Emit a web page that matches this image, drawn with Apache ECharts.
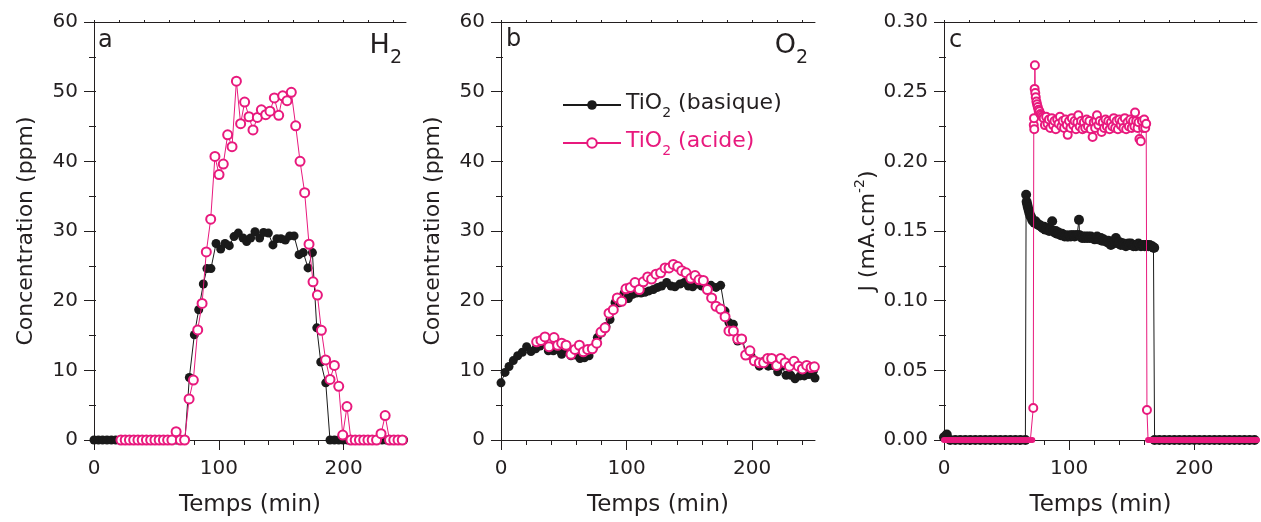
<!DOCTYPE html>
<html>
<head>
<meta charset="utf-8">
<script src="https://cdn.jsdelivr.net/npm/echarts@6/dist/echarts.min.js"></script>
<style>
html,body{margin:0;padding:0;background:#fff;}
#chart{width:1261px;height:522px;}
</style>
</head>
<body>
<div id="chart"></div>
<script>
// ---------- DATA ----------
// Panel a : H2 concentration (ppm) vs time (min)
const aBasique = [[0,0],[3.5,0],[6.9,0],[10.4,0],[13.9,0],[17.4,0],[20.8,0],[24.3,0],[27.8,0],[31.2,0],[34.7,0],[38.2,0],[41.7,0],[45.1,0],[48.6,0],[52.1,0],[55.6,0],[59.0,0],[62.5,0],[66.0,0],[69.4,0],[72.9,0],
[76.4,8.97],[80.4,15.1],[83.9,18.7],[87.6,22.4],[90.5,24.6],[93.7,24.6],[97.8,28.2],[101.5,27.4],[105.0,28.2],[108.4,27.9],
[112.2,29.2],[115.6,29.7],[119.4,29.0],[122.3,28.5],[125.5,29.0],[129.0,29.9],[132.7,29.0],[135.9,29.8],[139.7,29.7],[143.4,28.0],
[146.6,28.9],[149.8,28.9],[153.3,28.7],[156.8,29.3],[160.3,29.3],[164.3,26.6],[167.7,26.9],[171.5,24.7],[175.0,26.9],[178.5,16.1],
[181.7,11.2],[185.7,8.2],[189.1,0],[192.6,0],[196.1,0],[199.5,0],[203.0,0],[206.5,0],[210.0,0],[213.4,0],[216.9,0],[220.4,0],
[223.8,0],[227.3,0],[230.8,0],[234.2,0],[237.7,0],[241.2,0],[244.7,0],[248.1,0]];
const aAcide = [[21.6,0],[25.0,0],[28.4,0],[31.8,0],[35.2,0],[38.6,0],[42.0,0],[45.4,0],[48.8,0],[52.2,0],[55.6,0],[59.0,0],[62.4,0],
[65.8,1.2],[69.2,0],[72.6,0],[76.2,5.9],[79.6,8.6],[83.1,15.8],[86.6,19.6],[90.0,27.0],[93.5,31.7],[96.9,40.7],[100.2,38.1],
[103.6,39.6],[107.1,43.8],[110.6,42.1],[114.1,51.5],[117.5,45.4],[120.7,48.5],[124.2,46.4],[127.4,44.5],[130.9,46.3],[134.1,47.4],
[137.6,46.7],[141.0,47.2],[144.5,49.1],[148.0,46.6],[151.2,49.4],[154.7,48.7],[158.1,49.9],[161.6,45.1],[165.1,40.0],[168.8,35.5],
[172.3,28.1],[175.5,22.7],[179.0,20.8],[182.2,15.75],[185.6,11.5],[189.1,8.7],[192.6,10.7],[196.1,7.7],[199.3,0.7],[202.7,4.8],
[205.9,0],[209.3,0],[212.7,0],[216.1,0],[219.5,0],[222.9,0],[226.4,0],[230.0,0.9],[233.3,3.5],[236.8,0],[240.2,0],[243.6,0],[247.0,0]];

// Panel b : O2 concentration (ppm) vs time (min)
const bBasique = [[0,8.2],[3.2,9.7],[6.4,10.55],[9.8,11.4],[13.3,12.1],[17.0,12.6],[20.4,13.4],[23.9,12.7],[27.6,13.1],[31.1,13.5],
[34.5,13.8],[37.7,12.8],[41.7,12.8],[45.1,13.0],[48.3,12.3],[52.3,13.0],[55.7,12.1],[59.3,12.2],[62.9,11.7],[66.4,11.8],[70.1,12.1],
[73.5,13.2],[76.7,14.7],[80.2,15.4],[83.6,16.3],[86.8,17.3],[90.8,19.7],[94.2,19.7],[97.9,21.05],[101.4,20.3],[104.8,20.9],[108.0,21.1],
[111.5,21.1],[114.6,21.2],[117.8,21.4],[121.3,21.6],[124.7,21.9],[127.9,22.1],[131.9,22.6],[135.4,22.1],[138.5,22.0],[142.5,22.4],
[146.0,22.6],[149.2,22.1],[152.6,22.0],[156.3,22.4],[159.8,22.1],[163.2,22.1],[167.2,22.2],[171.2,21.9],[174.9,22.2],[178.4,18.5],
[181.5,16.85],[185.0,16.6],[188.4,14.2],[192.1,14.4],[195.6,12.3],[199.0,12.1],[202.2,11.3],[205.7,10.6],[209.4,11.3],[212.8,10.6],
[216.3,10.7],[220.3,9.8],[223.5,10.6],[227.0,9.3],[230.7,9.3],[234.1,8.8],[238.1,9.2],[241.5,9.2],[245.2,9.4],[248.7,9.9],[250,8.9]];
const bAcide = [[28.4,14.1],[31.8,14.3],[35.0,14.8],[38.2,13.4],[42.2,14.7],[45.1,13.6],[48.3,13.9],[51.8,13.6],[55.7,12.3],[58.9,13.0],
[62.4,13.6],[65.6,12.65],[69.0,13.0],[72.7,13.1],[76.2,13.9],[79.6,15.5],[82.8,16.1],[86.0,18.2],[89.4,18.7],[92.6,20.4],[96.1,19.9],
[99.5,21.7],[103.0,21.9],[106.7,22.6],[110.1,21.6],[113.3,22.7],[116.8,23.4],[119.9,23.1],[123.4,23.8],[127.1,24.0],[130.6,24.7],
[133.8,24.7],[137.2,25.2],[140.7,24.9],[143.9,24.3],[147.3,24.0],[151.1,23.2],[154.5,23.6],[157.7,23.0],[161.1,22.9],[164.3,21.6],
[167.7,20.4],[171.2,19.2],[174.9,18.8],[178.4,17.7],[181.5,15.65],[185.0,15.65],[188.4,14.5],[191.6,14.5],[194.8,12.2],[198.2,12.8],
[201.7,11.36],[205.7,11.1],[209.1,11.1],[212.3,11.7],[215.5,11.7],[219.5,10.7],[222.7,11.7],[226.2,11.1],[229.6,10.6],[233.3,11.3],
[236.8,10.6],[240.0,10.2],[243.4,10.7],[246.9,10.4],[249.5,10.5]];

// Panel c : current density J (mA.cm-2) vs time (min)
const cBasique = [[0,0.002],[2.2,0.004],[5,0],[9,0],[13,0],[17,0],[21,0],[25,0],[29,0],[33,0],[37,0],[41,0],[45,0],[49,0],[53,0],
[57,0],[61,0],[65,0],
[65.6,0.176],[66.0,0.171],[66.5,0.169],[67.0,0.167],[67.6,0.165],[68.2,0.163],[68.9,0.161],[69.6,0.160],[70.4,0.158],[71.3,0.157],
[72.2,0.156],[73.1,0.157],[74.0,0.155],[75.0,0.155],[76.0,0.154],[77.0,0.154],[78.0,0.153],[79.0,0.152],[80.0,0.153],[81.0,0.151],
[82.0,0.152],[83.0,0.151],[84.0,0.150],[85.0,0.151],[86.4,0.157],[87.3,0.150],[88.3,0.149],[89.3,0.150],[90.3,0.148],[91.3,0.149],
[92.3,0.148],[93.3,0.147],[94.3,0.148],[95.3,0.147],[96.3,0.146],[97.3,0.147],[98.3,0.146],[99.3,0.146],[100.3,0.147],[101.3,0.146],
[102.3,0.147],[103.3,0.147],[104.3,0.146],[105.3,0.147],[106.3,0.147],[107.4,0.147],[107.8,0.158],[108.3,0.147],[109.3,0.146],
[110.3,0.145],[111.3,0.146],[112.3,0.145],[113.3,0.146],[114.3,0.145],[115.3,0.146],[116.3,0.145],[117.3,0.146],[118.3,0.145],
[119.3,0.145],[120.3,0.144],[121.3,0.145],[122.3,0.146],[123.3,0.144],[124.3,0.144],[125.3,0.145],[126.3,0.143],[127.3,0.144],
[128.3,0.143],[129.3,0.143],[130.3,0.142],[131.3,0.143],[132.3,0.141],[133.3,0.140],[134.3,0.142],[135.3,0.141],[136.3,0.143],
[137.3,0.145],[138.3,0.142],[139.3,0.141],[140.3,0.142],[141.3,0.140],[142.3,0.141],[143.3,0.141],[144.3,0.140],[145.3,0.139],
[146.3,0.140],[147.3,0.141],[148.3,0.140],[149.3,0.141],[150.3,0.140],[151.3,0.139],[152.3,0.140],[153.3,0.139],[154.3,0.140],
[155.3,0.141],[156.3,0.140],[157.3,0.139],[158.3,0.140],[159.3,0.140],[160.3,0.139],[161.3,0.140],[162.3,0.140],[163.3,0.139],
[164.3,0.140],[165.3,0.139],[166.3,0.139],[167.3,0.138],[167.9,0.138],
[168.2,0],[172,0],[176,0],[180,0],[184,0],[188,0],[192,0],[196,0],[200,0],[204,0],[208,0],[212,0],[216,0],[220,0],[224,0],[228,0],
[232,0],[236,0],[240,0],[244,0],[248,0]];
const cAcide = [[0,0],[1.5,0],[3,0],[4.5,0],[6,0],[7.5,0],[9,0],[10.5,0],[12,0],[13.5,0],[15,0],[16.5,0],[18,0],[19.5,0],[21,0],
[22.5,0],[24,0],[25.5,0],[27,0],[28.5,0],[30,0],[31.5,0],[33,0],[34.5,0],[36,0],[37.5,0],[39,0],[40.5,0],[42,0],[43.5,0],[45,0],
[46.5,0],[48,0],[49.5,0],[51,0],[52.5,0],[54,0],[55.5,0],[57,0],[58.5,0],[60,0],[61.5,0],[63,0],[64.5,0],[66,0],[67.5,0],[69,0],[70.5,0],
[71.3,0.023],[71.7,0.226],[71.9,0.231],[72.1,0.223],[72.4,0.252],[72.6,0.269],[72.9,0.249],[73.3,0.246],[73.8,0.243],[74.3,0.241],
[74.9,0.239],[75.5,0.237],[76.2,0.236],[77.0,0.234],[77.8,0.233],[78.7,0.232],
[79.6,0.231],[80.6,0.226],[81.6,0.232],[82.7,0.227],[83.8,0.230],[84.9,0.224],[86.0,0.231],[87.1,0.226],[88.2,0.229],[89.3,0.223],
[90.4,0.230],[91.5,0.227],[92.6,0.232],[93.7,0.225],[94.8,0.229],[95.9,0.224],[97.0,0.230],[98.1,0.226],[98.8,0.219],[99.9,0.229],
[101.0,0.224],[102.1,0.231],[103.2,0.226],[104.3,0.229],[105.4,0.223],[106.5,0.228],[107.3,0.233],[108.4,0.225],[109.5,0.229],
[110.6,0.223],[111.7,0.228],[112.8,0.224],[113.9,0.230],[115.0,0.225],[116.1,0.229],[117.2,0.223],[118.7,0.2175],[119.6,0.228],
[120.7,0.224],[121.5,0.229],[122.2,0.233],[123.3,0.226],[124.4,0.229],[125.9,0.221],[126.8,0.228],[127.9,0.224],[129.0,0.230],
[130.1,0.225],[131.2,0.229],[132.3,0.223],[133.4,0.228],[134.5,0.225],[135.6,0.231],[136.7,0.224],[137.8,0.229],[138.9,0.223],
[140.0,0.230],[141.1,0.226],[142.2,0.229],[143.3,0.224],[144.4,0.231],[145.5,0.223],[146.6,0.228],[147.7,0.225],[148.8,0.230],
[149.9,0.224],[151.0,0.229],[152.1,0.225],[152.6,0.235],[153.5,0.229],[154.6,0.224],[155.4,0.228],[156.1,0.216],[157.2,0.2145],
[158.1,0.229],[159.0,0.224],[159.9,0.230],[160.7,0.224],[161.5,0.227],[162.1,0.0215],
[163,0],[164.5,0],[166,0],[167.5,0],[169,0],[170.5,0],[172,0],[173.5,0],[175,0],[176.5,0],[178,0],[179.5,0],[181,0],[182.5,0],
[184,0],[185.5,0],[187,0],[188.5,0],[190,0],[191.5,0],[193,0],[194.5,0],[196,0],[197.5,0],[199,0],[200.5,0],[202,0],[203.5,0],
[205,0],[206.5,0],[208,0],[209.5,0],[211,0],[212.5,0],[214,0],[215.5,0],[217,0],[218.5,0],[220,0],[221.5,0],[223,0],[224.5,0],
[226,0],[227.5,0],[229,0],[230.5,0],[232,0],[233.5,0],[235,0],[236.5,0],[238,0],[239.5,0],[241,0],[242.5,0],[244,0],[245.5,0],
[247,0],[248.5,0],[250,0]];

// Tick values
const xMajorTicks = [0, 100, 200];
const xMinorTicks = [20, 40, 60, 80, 120, 140, 160, 180, 220, 240];
const seriesNames = ['TiO2 (basique)', 'TiO2 (acide)'];
const panelLetters = ['a', 'b', 'c'];
const panelGases = ['H', 'O'];

// ---------- STYLE ----------
const FONT = "'DejaVu Sans', 'Liberation Sans', Arial, sans-serif";
const TXT = '#231f20';
const AX = '#231f20';
const PINK = '#e8197d';
const BLACK = '#1a1a1a';

const grids = [
  {left: 94, width: 312, top: 22, height: 419},
  {left: 501, width: 314, top: 22, height: 419},
  {left: 944, width: 313, top: 22, height: 419}
];

const lineSt = {color: AX, width: 1};

function xAxesFor(g) {
  const base = {type: 'value', gridIndex: g, min: 0, max: 250, splitLine: {show: false}};
  return [
    Object.assign({}, base, {
      position: 'bottom',
      axisLine: {show: true, lineStyle: lineSt},
      axisTick: {show: true, length: 10, customValues: xMajorTicks, lineStyle: lineSt},
      axisLabel: {show: true, customValues: xMajorTicks, fontSize: 20, color: TXT, fontFamily: FONT, margin: 19},
      name: 'Temps (min)', nameLocation: 'middle', nameGap: 54,
      nameTextStyle: {fontSize: 23, color: TXT, fontFamily: FONT}
    }),
    Object.assign({}, base, {
      position: 'bottom',
      axisLine: {show: false},
      axisTick: {show: true, length: 5, customValues: xMinorTicks, lineStyle: lineSt},
      axisLabel: {show: false}
    }),
    Object.assign({}, base, {
      position: 'top',
      axisLine: {show: true, lineStyle: lineSt},
      axisTick: {show: true, length: 2, customValues: xMajorTicks.concat(xMinorTicks), lineStyle: lineSt},
      axisLabel: {show: false}
    }),
    Object.assign({}, base, {
      position: 'top',
      axisLine: {show: false},
      axisTick: {show: false},
      axisLabel: {show: false}
    })
  ];
}

function yAxesFor(g, max, interval, fmt, name, nameGap) {
  const base = {
    type: 'value', gridIndex: g, min: 0, max: max, interval: interval,
    splitLine: {show: false}, minorSplitLine: {show: false},
    axisLine: {show: true, lineStyle: lineSt}
  };
  return [
    Object.assign({}, base, {
      position: 'left',
      axisTick: {show: true, length: 10, lineStyle: lineSt},
      minorTick: {show: true, splitNumber: 2, length: 5, lineStyle: lineSt},
      axisLabel: {show: true, fontSize: 20, color: TXT, fontFamily: FONT, margin: 16, formatter: fmt},
      name: name, nameLocation: 'middle', nameGap: nameGap,
      nameTextStyle: {fontSize: 22, color: TXT, fontFamily: FONT,
        rich: {m: {fontSize: 22, fontFamily: FONT, color: TXT, lineHeight: 26, verticalAlign: 'bottom'},
               sup: {fontSize: 14, fontFamily: FONT, color: TXT, lineHeight: 14, verticalAlign: 'top'}}}
    }),
    Object.assign({}, base, {
      position: 'right',
      axisTick: {show: true, length: 2, lineStyle: lineSt},
      minorTick: {show: true, splitNumber: 2, length: 2, lineStyle: lineSt},
      axisLabel: {show: false}
    })
  ];
}

const xAxis = [].concat(xAxesFor(0), xAxesFor(1), xAxesFor(2));
const yAxis = [].concat(
  yAxesFor(0, 60, 10, v => String(Math.round(v)), 'Concentration (ppm)', 57),
  yAxesFor(1, 60, 10, v => String(Math.round(v)), 'Concentration (ppm)', 57),
  yAxesFor(2, 0.3, 0.05, v => v.toFixed(2), '{m|J (mA.cm}{sup|-2}{m|)}', 60)
);

// zero-valued points of the dense panel-c record form a solid band
function bandify(arr) {
  return arr.map(p => p[1] === 0
    ? {value: p, symbol: 'circle', symbolSize: 6, itemStyle: {color: PINK, borderWidth: 0}}
    : p);
}

const panelData = [[aBasique, aAcide], [bBasique, bAcide], [cBasique, bandify(cAcide)]];
const series = [];
panelData.forEach((pair, g) => {
  series.push({
    name: seriesNames[0], type: 'line', xAxisIndex: 4 * g, yAxisIndex: 2 * g,
    data: pair[0], symbol: 'circle', symbolSize: g === 2 ? 10 : 9, showSymbol: true, showAllSymbol: true,
    lineStyle: {color: BLACK, width: 1}, itemStyle: {color: BLACK}, z: 2
  });
  series.push({
    name: seriesNames[1], type: 'line', xAxisIndex: 4 * g, yAxisIndex: 2 * g,
    data: pair[1], symbol: 'emptyCircle', symbolSize: g === 2 ? 8 : 9, showSymbol: true, showAllSymbol: true,
    lineStyle: {color: PINK, width: 1}, itemStyle: {color: PINK, borderWidth: 1}, z: 3
  });
});

const titleRich = {
  m: {fontSize: 27, fontWeight: 'normal', fontFamily: FONT, color: TXT, lineHeight: 28, verticalAlign: 'top'},
  s: {fontSize: 19, fontWeight: 'normal', fontFamily: FONT, color: TXT, lineHeight: 19, verticalAlign: 'top', padding: [17, 0, 0, 0]}
};
const letterStyle = {fontSize: 24, fontWeight: 'normal', color: TXT, fontFamily: FONT};
const title = [
  {text: panelLetters[0], left: 98, top: 29, padding: 0, textStyle: letterStyle},
  {text: panelLetters[1], left: 506, top: 28, padding: 0, textStyle: letterStyle},
  {text: panelLetters[2], left: 949, top: 29, padding: 0, textStyle: letterStyle},
  {text: '{m|' + panelGases[0] + '}{s|2}', right: 859, top: 32, padding: 0, textStyle: {fontWeight: 'normal', rich: titleRich}},
  {text: '{m|' + panelGases[1] + '}{s|2}', right: 453, top: 32, padding: 0, textStyle: {fontWeight: 'normal', rich: titleRich}}
];

const legendRich = {
  m: {fontSize: 22, fontFamily: FONT, lineHeight: 26, verticalAlign: 'top'},
  sub: {fontSize: 14, fontFamily: FONT, lineHeight: 14, verticalAlign: 'top', padding: [14, 0, 0, 0]}
};

const option = {
  animation: false,
  backgroundColor: '#ffffff',
  textStyle: {fontFamily: FONT},
  title: title,
  legend: {
    orient: 'vertical', left: 562, top: 92, padding: 0,
    itemWidth: 58, itemHeight: 12, itemGap: 10,
    selectedMode: false,
    formatter: n => '{m|' + n.replace('TiO2', 'TiO}{sub|2}{m|') + '}',
    textStyle: {fontSize: 22, fontFamily: FONT, rich: legendRich},
    data: [
      {name: seriesNames[0], textStyle: {color: TXT}},
      {name: seriesNames[1], textStyle: {color: PINK}}
    ]
  },
  grid: grids,
  xAxis: xAxis,
  yAxis: yAxis,
  series: series
};

const chart = echarts.init(document.getElementById('chart'), null, {renderer: 'canvas'});
chart.setOption(option);
</script>
</body>
</html>
